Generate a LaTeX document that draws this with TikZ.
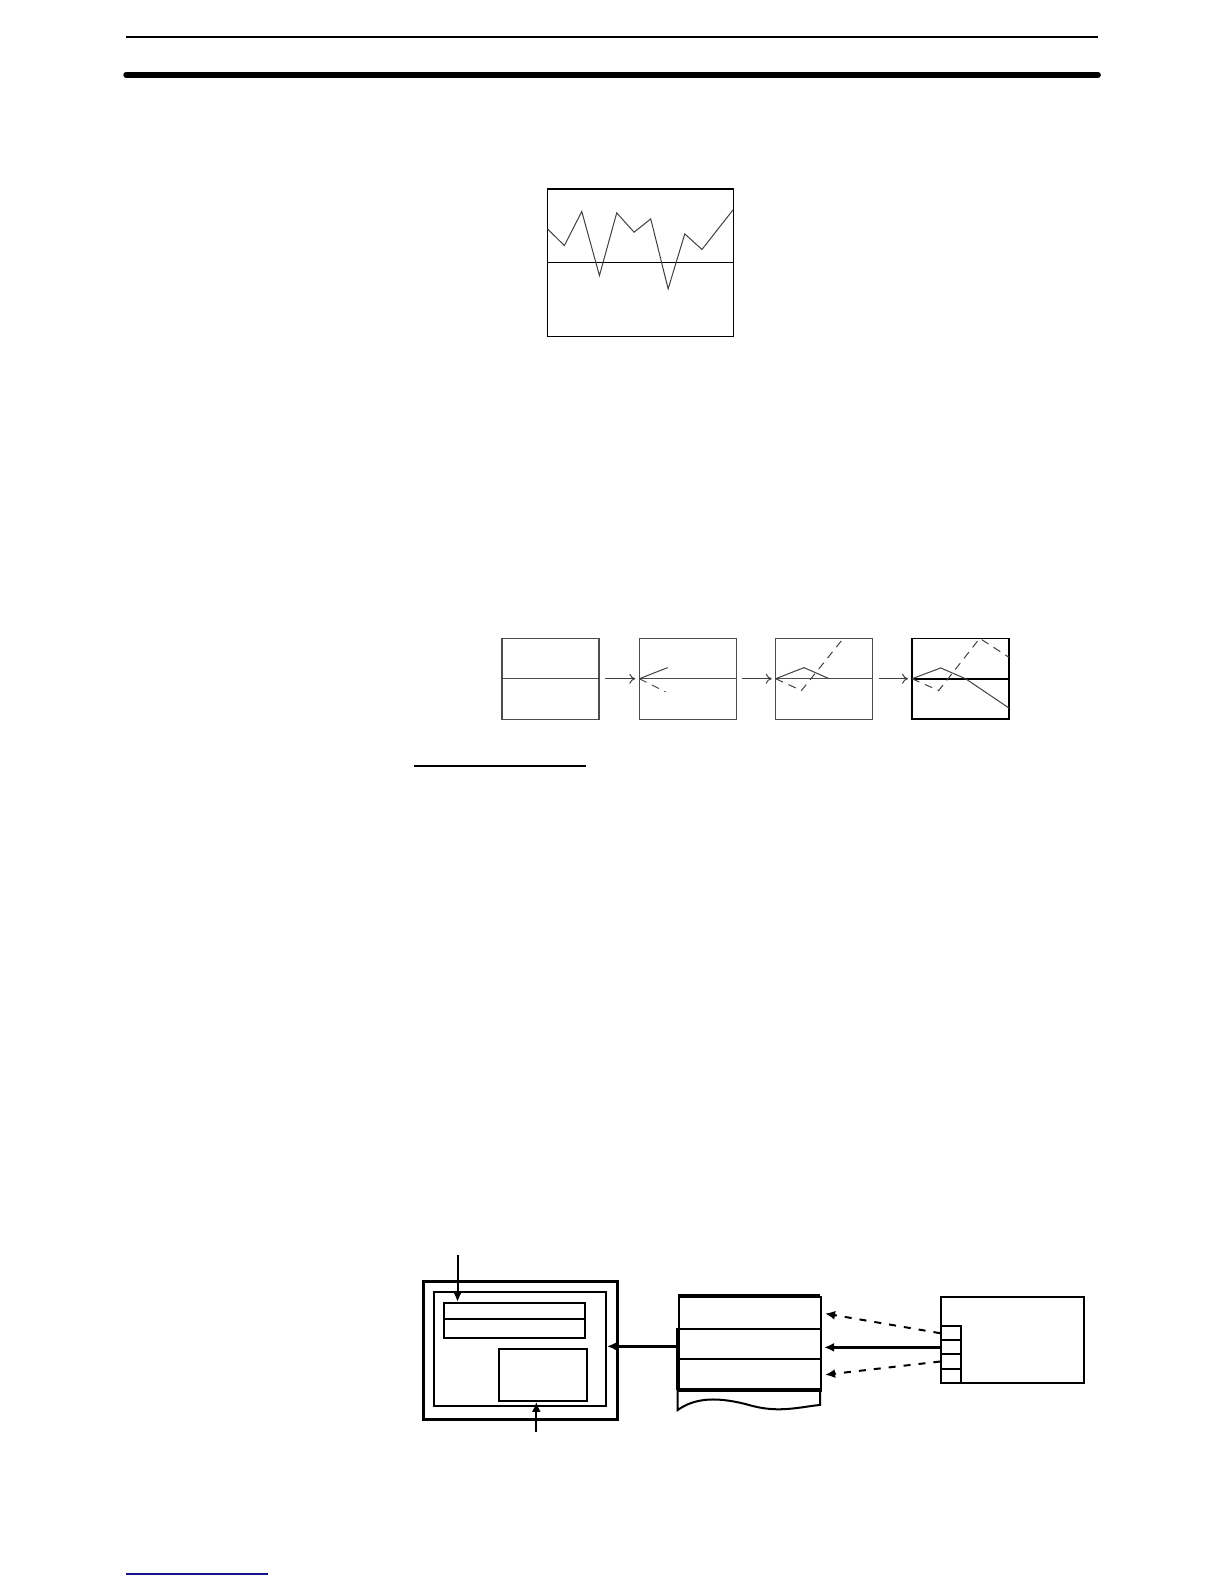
\documentclass[tikz,border=0pt]{standalone}
\usetikzlibrary{arrows.meta}
\definecolor{navy}{RGB}{20,20,140}
\begin{document}
\begin{tikzpicture}[x=0.505pt,y=-0.505pt,
  chart/.style={draw=black!70,line width=0.6pt},
  curve/.style={black!75,line width=0.5pt},
  dcurve/.style={black!75,line width=0.5pt,dash pattern=on 4pt off 3pt},
  step arrow/.style={black!75,line width=0.5pt,-{To[length=3pt,width=5pt]}},
  box/.style={draw,line width=1pt,inner sep=0pt,anchor=north west},
  feed/.style={line width=1.3pt,-{Latex[length=5pt,width=4.5pt]}},
  dfeed/.style={line width=1pt,dash pattern=on 3.5pt off 4pt,-{Latex[length=5pt,width=4.5pt]}}]
\useasboundingbox (0,0) rectangle (1211.9,1568.3);
% header rules
\draw[line width=1pt] (125,37) -- (1087,37);
\draw[line width=3pt,line cap=round] (125,74) -- (1087,74);
% trend chart
\begin{scope}[shift={(542,187)}]
\draw[line width=0.7pt] (0,0) rectangle (184,146);
\draw[line width=0.7pt] (0,73) -- (184,73);
\draw[curve] (0,39.6) -- (16.8,56.1) -- (34,22.4) -- (51.5,85.8) -- (68.6,23.8) -- (85.8,42.9) -- (102.3,29.7) -- (119.5,99) -- (136,44.6) -- (153,60) -- (184,20.5);
\end{scope}
% sequence panels
\foreach \n/\x in {1/497,2/633,3/768} {
  \draw[chart] (\x,632) rectangle ++(96,80);
  \draw[chart] (\x,672) -- ++(96,0);
  \coordinate (p\n w) at (\x,672);
  \coordinate (p\n e) at (\x+96,672);
}
\draw[line width=0.8pt] (903,632) rectangle ++(96,80);
\draw[line width=0.8pt] (903,672) -- ++(96,0);
\coordinate (p4w) at (903,672);
\draw[step arrow] ([xshift=3pt]p1e) -- ([xshift=-2pt]p2w);
\draw[step arrow] ([xshift=3pt]p2e) -- ([xshift=-2pt]p3w);
\draw[step arrow] ([xshift=3pt]p3e) -- ([xshift=-2pt]p4w);
\begin{scope}[shift={(633,632)}]
\draw[curve] (0,40) -- (28,29);
\draw[dcurve] (0,40) -- (26,53);
\end{scope}
\begin{scope}[shift={(768,632)}]
\draw[curve] (0,40) -- (28,29) -- (53,40);
\draw[dcurve] (0,40) -- (25.5,51.7) -- (67,0);
\end{scope}
\begin{scope}[shift={(903,632)}]
\draw[curve] (0,40) -- (28.4,29.3) -- (53,40) -- (96,69);
\draw[dcurve] (0,40) -- (26.4,51.7) -- (67,0) -- (96,18.8);
\end{scope}
% underline
\draw[line width=1pt] (410,758) -- (580,758);
% bottom diagram: display unit
\node[box,line width=1.6pt,minimum width=96.96pt,minimum height=69.2pt] (outer) at (418,1267) {};
\node[box,minimum width=85.85pt,minimum height=57.07pt] (inner) at (429,1278) {};
\node[box,minimum width=70.2pt,minimum height=17.68pt] (field) at (439,1289) {};
\draw[line width=1pt] (439,1306) -- (578,1306);
\node[box,minimum width=43.94pt,minimum height=25.76pt] (win) at (493,1335) {};
\coordinate (topin) at (453,1243);
\coordinate (botin) at (531,1418);
\draw[feed,line width=1pt] (topin) -- (topin |- field.north);
\draw[feed,line width=1pt] (botin) -- (botin |- win.south);
% memory stack
\node[box,minimum width=71.2pt,minimum height=16.16pt] (r1) at (671,1283) {};
\node[box,minimum width=71.2pt,minimum height=15.15pt] (r2) at (671,1315) {};
\node[box,minimum width=71.2pt,minimum height=15.66pt] (r3) at (671,1345) {};
\draw[line width=1.6pt] (671,1283) -- (812,1283);
\draw[line width=1.6pt] (671,1376) -- (812,1376);
\draw[line width=1.3pt] (671,1315) -- (671,1376);
\draw[line width=1pt] (671,1376) -- (671,1396) .. controls (688,1384) and (710,1382) .. (745,1392) .. controls (772,1399) and (792,1393) .. (812,1391) -- (812,1376);
\draw[feed] ([yshift=-1pt]r2.west) -- ([yshift=-1pt]r2.west -| inner.east);
% device
\node[box,minimum width=71.2pt,minimum height=42.9pt] (dev) at (931,1283) {};
\node[box,minimum width=9.6pt,minimum height=7.07pt] (c1) at (931,1312) {};
\node[box,minimum width=9.6pt,minimum height=7.07pt] (c2) at (931,1326) {};
\node[box,minimum width=9.6pt,minimum height=7.07pt] (c3) at (931,1340) {};
\node[box,minimum width=9.6pt,minimum height=7.07pt] (c4) at (931,1354) {};
\draw[dfeed,shorten >=1.5pt] (c1.west) -- (r1.east);
\draw[feed,shorten >=1pt] (c2.west) -- (c2.west -| r2.east);
\draw[dfeed,shorten >=1.5pt] (c3.west) -- (r3.east);
% footer link underline
\draw[navy,line width=1pt] (125,1558) -- (265,1558);
\end{tikzpicture}
\end{document}
